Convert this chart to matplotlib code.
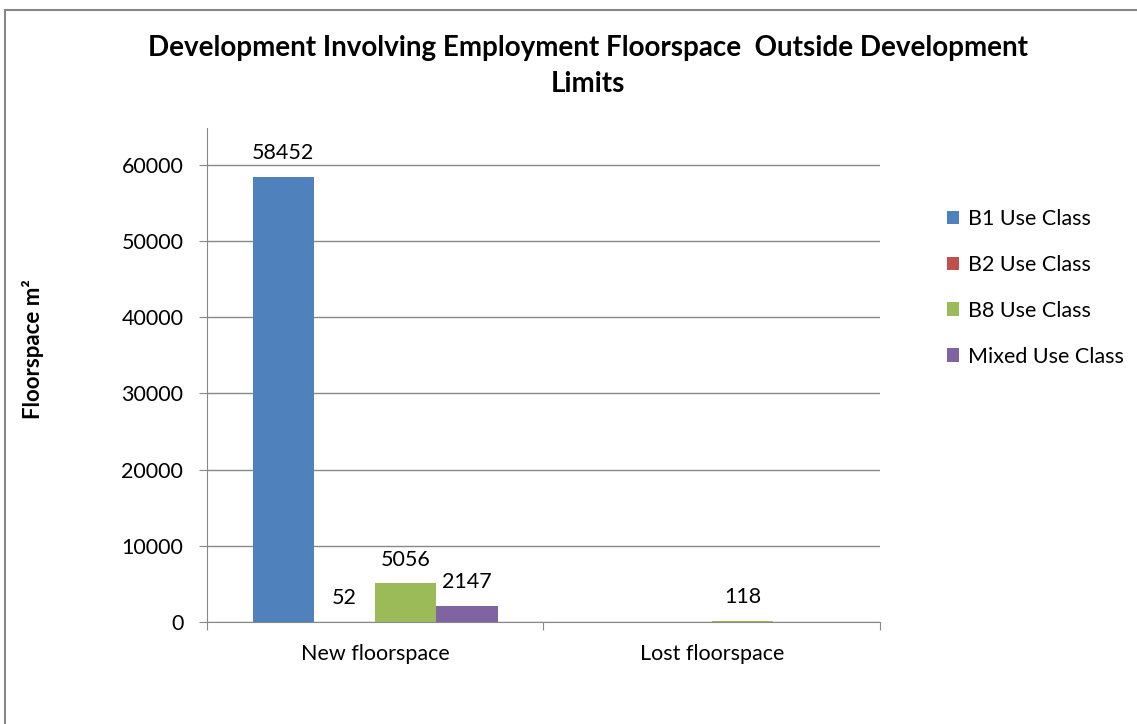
import matplotlib
matplotlib.use('Agg')
import matplotlib.pyplot as plt
import numpy as np

categories = ['New floorspace', 'Lost floorspace']
series_names = ['B1 Use Class', 'B2 Use Class', 'B8 Use Class', 'Mixed Use Class']
b1_values = [58452, np.nan]
b2_values = [52, np.nan]
b8_values = [5056, 118]
mixed_values = [2147, np.nan]
y_ticks = [0, 10000, 20000, 30000, 40000, 50000, 60000]

colors = ['#4F81BD', '#C0504D', '#9BBB59', '#8064A2']
plt.rcParams['font.family'] = ['Lato', 'DejaVu Sans']

fig = plt.figure(figsize=(11.37, 7.24), dpi=100)
ax = fig.add_axes([0.182, 0.141, 0.592, 0.682])

# outer chart frame (cut off on right/bottom as in the screenshot)
fig.add_artist(plt.Line2D([5/1137, 5/1137], [0, 1 - 10/724], transform=fig.transFigure,
                          color='#888888', lw=1.5))
fig.add_artist(plt.Line2D([5/1137, 1], [1 - 10/724, 1 - 10/724], transform=fig.transFigure,
                          color='#888888', lw=1.5))

x = np.arange(len(categories))
width = 0.182
all_vals = [b1_values, b2_values, b8_values, mixed_values]
for i, vals in enumerate(all_vals):
    pos = x + (i - 1.5) * width
    v = np.array(vals, dtype=float)
    ax.bar(pos, np.nan_to_num(v), width, color=colors[i], label=series_names[i], zorder=3)
    for p, val in zip(pos, v):
        if not np.isnan(val):
            ax.annotate('%d' % val, (p, val), xytext=(0, 17), textcoords='offset points',
                        ha='center', va='center', fontsize=15.5)

ax.set_xlim(-0.5, 1.5)
ax.set_ylim(0, 64850)
ax.set_yticks(y_ticks)
ax.set_yticklabels([str(t) for t in y_ticks], fontsize=15.5)
ax.set_xticks([-0.5, 0.5, 1.5], minor=False)
ax.set_xticklabels(['', '', ''])
ax.set_xticks(x, minor=True)
ax.set_xticklabels(categories, minor=True, fontsize=15.5)
ax.tick_params(axis='x', which='minor', length=0, pad=16)
ax.tick_params(axis='x', which='major', length=6, color='#888888')
ax.tick_params(axis='y', length=6, color='#888888', pad=11)
ax.grid(axis='y', color='#888888', lw=1, zorder=0)
for s in ['top', 'right']:
    ax.spines[s].set_visible(False)
for s in ['left', 'bottom']:
    ax.spines[s].set_color('#888888')

fig.text(33/1137, 1 - 349/724, 'Floorspace m²', rotation=90, ha='center', va='center',
         fontsize=16, fontweight='bold')
fig.text(0.517, 1 - 48/724, 'Development Involving Employment Floorspace  Outside Development',
         ha='center', va='center', fontsize=20, fontweight='bold')
fig.text(0.517, 1 - 84/724, 'Limits', ha='center', va='center', fontsize=20, fontweight='bold')

leg = ax.legend(loc='upper left', bbox_to_anchor=(1.07, 0.875), frameon=False, fontsize=15.5,
                handlelength=0.6, handleheight=0.6, handletextpad=0.4, labelspacing=1.2)

fig.savefig('out.png', dpi=100)
